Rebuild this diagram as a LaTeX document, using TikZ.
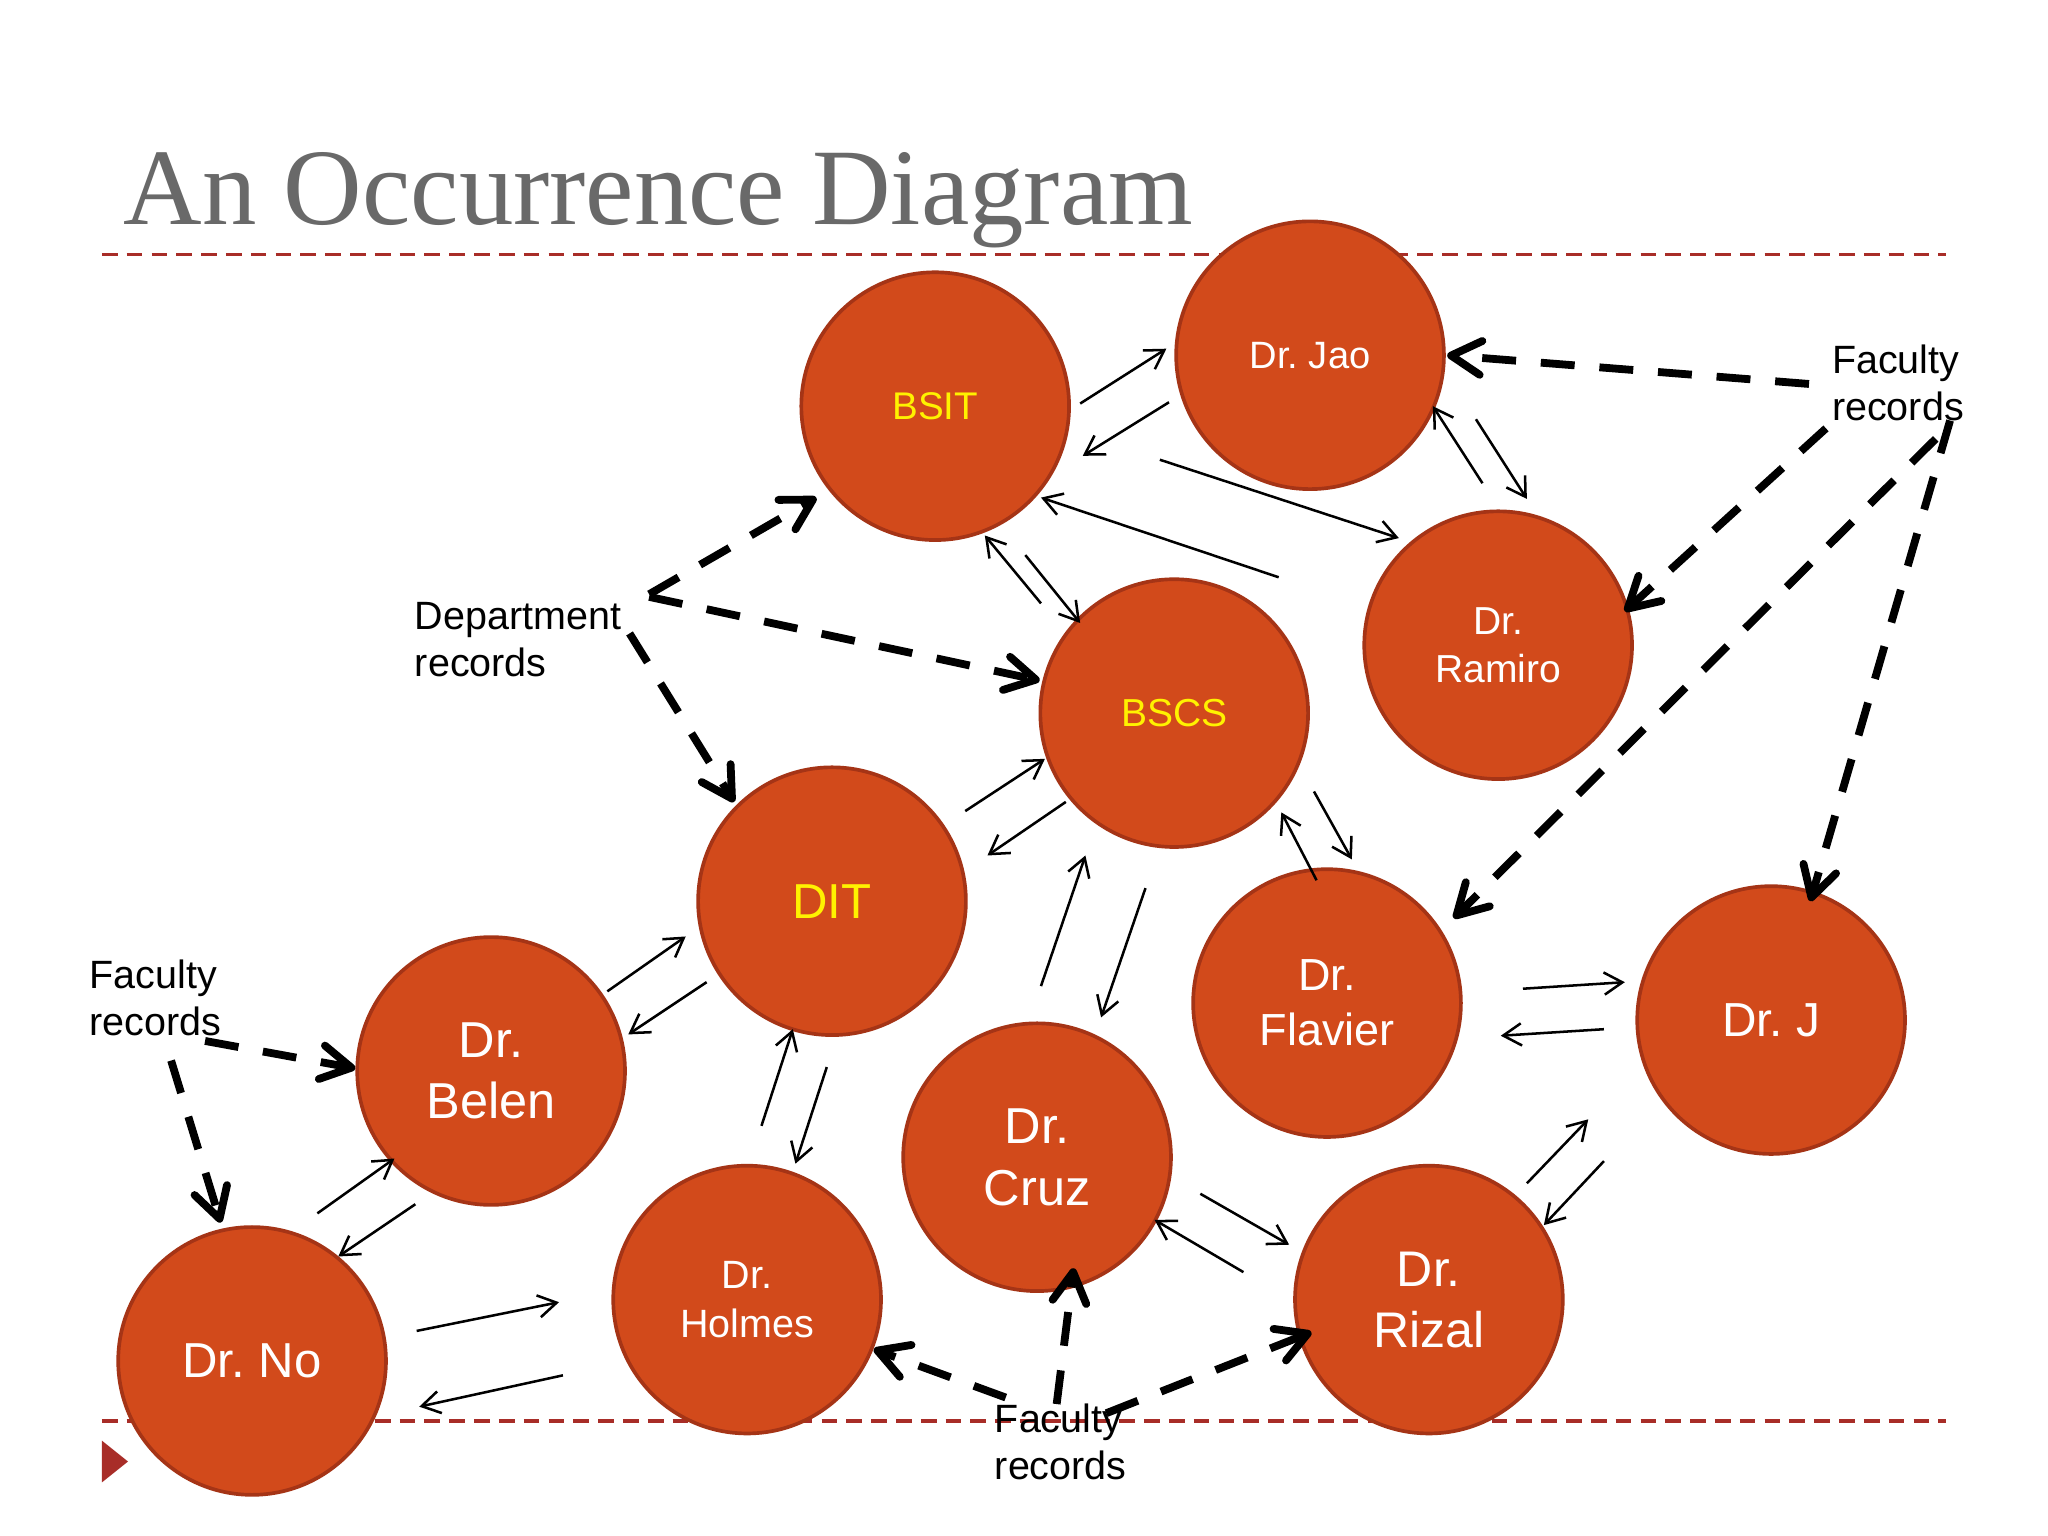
\documentclass[tikz,border=0pt]{standalone}
\usepackage{fontspec}
\setmainfont{Liberation Serif}
\setsansfont{Liberation Sans}
\usetikzlibrary{calc,arrows.meta}
\frenchspacing

\definecolor{entfill}{RGB}{210,74,27}
\definecolor{entline}{RGB}{165,52,22}
\definecolor{rulered}{RGB}{168,45,40}
\definecolor{titlegray}{RGB}{105,105,105}

\begin{document}
\begin{tikzpicture}[
  entity/.style={circle,fill=entfill,draw=entline,line width=0.8pt,minimum size=2.05cm,inner sep=0pt,align=center,text=white},
  rel/.style={-{Straight Barb[length=1.4mm,width=1.7mm]},line width=0.55pt},
  rec/.style={-{Straight Barb[length=2.3mm,width=2.6mm,round]},line width=1.7pt,dash pattern=on 0.26cm off 0.19cm},
  lbl/.style={anchor=west,inner sep=0pt,align=left,font=\sffamily\fontsize{8.6}{10.2}\selectfont}]
\useasboundingbox[fill=white] (0,0) rectangle (15.68,11.76);

\node[anchor=base west,inner sep=0pt,text=titlegray,font=\fontsize{23.7}{28}\selectfont] (title) at (0.94,10.04) {An Occurrence Diagram};
\draw[rulered,line width=0.7pt,dash pattern=on 0.12cm off 0.07cm] (0.78,9.81) -- (14.90,9.81);
\draw[rulered,line width=0.7pt,dash pattern=on 0.12cm off 0.07cm] (0.78,0.88) -- (14.90,0.88);
\fill[rulered] (0.78,0.73) -- (0.78,0.41) -- (0.98,0.57) -- cycle;

\node[entity,text=yellow,font=\sffamily\fontsize{8.4}{10.2}\selectfont] (bsit) at (7.16,8.65) {BSIT};
\node[entity,font=\sffamily\fontsize{8.3}{10.1}\selectfont] (jao) at (10.03,9.04) {Dr. Jao};
\node[entity,font=\sffamily\fontsize{8.5}{10.4}\selectfont] (ramiro) at (11.47,6.82) {Dr.\\Ramiro};
\node[entity,text=yellow,font=\sffamily\fontsize{8.5}{10.4}\selectfont] (bscs) at (8.99,6.30) {BSCS};
\node[entity,text=yellow,font=\sffamily\fontsize{10.7}{13}\selectfont] (dit) at (6.37,4.86) {DIT};
\node[entity,font=\sffamily\fontsize{9.8}{12}\selectfont] (flavier) at (10.16,4.08) {Dr.\\Flavier};
\node[entity,font=\sffamily\fontsize{10.4}{12.7}\selectfont] (drj) at (13.56,3.95) {Dr. J};
\node[entity,font=\sffamily\fontsize{11}{13.4}\selectfont] (belen) at (3.76,3.56) {Dr.\\Belen};
\node[entity,font=\sffamily\fontsize{11}{13.4}\selectfont] (cruz) at (7.94,2.90) {Dr.\\Cruz};
\node[entity,font=\sffamily\fontsize{8.6}{10.5}\selectfont] (holmes) at (5.72,1.81) {Dr.\\Holmes};
\node[entity,font=\sffamily\fontsize{10.9}{13.3}\selectfont] (rizal) at (10.94,1.81) {Dr.\\Rizal};
\node[entity,font=\sffamily\fontsize{10.7}{13}\selectfont] (drno) at (1.93,1.34) {Dr. No};

\draw[rel] ($(bsit)+(1.11,0.02)$) -- ($(jao)+(-1.10,0.05)$);
\draw[rel] ($(jao)+(-1.08,-0.36)$) -- ($(bsit)+(1.13,-0.38)$);
\draw[rel] ($(bsit)+(1.72,-0.41)$) -- ($(ramiro)+(-0.76,0.82)$);
\draw[rel] ($(ramiro)+(-1.68,0.52)$) -- ($(bsit)+(0.81,-0.70)$);
\draw[rel] ($(ramiro)+(-0.12,1.24)$) -- ($(jao)+(0.94,-0.39)$);
\draw[rel] ($(jao)+(1.27,-0.49)$) -- ($(ramiro)+(0.22,1.12)$);
\draw[rel] ($(bscs)+(-1.02,0.84)$) -- ($(bsit)+(0.38,-0.99)$);
\draw[rel] ($(bsit)+(0.69,-1.14)$) -- ($(bscs)+(-0.72,0.69)$);
\draw[rel] ($(dit)+(1.02,0.69)$) -- ($(bscs)+(-0.99,-0.35)$);
\draw[rel] ($(bscs)+(-0.83,-0.68)$) -- ($(dit)+(1.19,0.35)$);
\draw[rel] ($(flavier)+(-0.08,0.94)$) -- ($(bscs)+(0.82,-0.76)$);
\draw[rel] ($(bscs)+(1.07,-0.60)$) -- ($(flavier)+(0.19,1.10)$);
\draw[rel] ($(cruz)+(0.03,1.31)$) -- ($(bscs)+(-0.68,-1.09)$);
\draw[rel] ($(bscs)+(-0.22,-1.34)$) -- ($(cruz)+(0.49,1.07)$);
\draw[rel] ($(belen)+(0.89,0.61)$) -- ($(dit)+(-1.12,-0.27)$);
\draw[rel] ($(dit)+(-0.96,-0.62)$) -- ($(belen)+(1.05,0.28)$);
\draw[rel] ($(holmes)+(0.11,1.33)$) -- ($(dit)+(-0.30,-0.98)$);
\draw[rel] ($(dit)+(-0.04,-1.27)$) -- ($(holmes)+(0.37,1.04)$);
\draw[rel] ($(drno)+(0.50,1.13)$) -- ($(belen)+(-0.74,-0.67)$);
\draw[rel] ($(belen)+(-0.58,-1.02)$) -- ($(drno)+(0.66,0.80)$);
\draw[rel] ($(drno)+(1.26,0.23)$) -- ($(holmes)+(-1.44,-0.02)$);
\draw[rel] ($(holmes)+(-1.41,-0.58)$) -- ($(drno)+(1.28,-0.35)$);
\draw[rel] ($(flavier)+(1.50,0.11)$) -- ($(drj)+(-1.12,0.29)$);
\draw[rel] ($(drj)+(-1.28,-0.07)$) -- ($(flavier)+(1.33,-0.25)$);
\draw[rel] ($(rizal)+(0.75,0.89)$) -- ($(drj)+(-1.40,-0.76)$);
\draw[rel] ($(drj)+(-1.28,-1.08)$) -- ($(rizal)+(0.88,0.57)$);
\draw[rel] ($(cruz)+(1.25,-0.28)$) -- ($(rizal)+(-1.07,0.42)$);
\draw[rel] ($(rizal)+(-1.42,0.21)$) -- ($(cruz)+(0.90,-0.48)$);

\node[lbl] (deptrec) at (3.17,6.86) {Department\\records};
\node[lbl] (factop) at (14.02,8.83) {Faculty\\records};
\node[lbl] (facleft) at (0.68,4.12) {Faculty\\records};
\node[lbl] (facbot) at (7.61,0.72) {Faculty\\records};

\draw[rec] ($(deptrec.west)+(1.80,0.35)$) -- ($(bsit)+(-0.91,-0.70)$);
\draw[rec] ($(deptrec.west)+(1.80,0.33)$) -- ($(bscs)+(-1.03,0.25)$);
\draw[rec] ($(deptrec.west)+(1.65,0.05)$) -- ($(dit)+(-0.75,0.76)$);
\draw[rec] ($(factop.west)+(-0.17,-0.01)$) -- ($(jao)+(1.05,0.00)$);
\draw[rec] ($(factop.west)+(-0.04,-0.35)$) -- ($(ramiro)+(0.97,0.26)$);
\draw[rec] ($(factop.west)+(0.80,-0.43)$) -- ($(flavier)+(0.97,0.65)$);
\draw[rec] ($(factop.west)+(0.91,-0.29)$) -- ($(drj)+(0.30,0.91)$);
\draw[rec] ($(facleft.west)+(0.89,-0.33)$) -- ($(belen)+(-1.04,0.02)$);
\draw[rec] ($(facleft.west)+(0.63,-0.48)$) -- ($(drno)+(-0.24,1.06)$);
\draw[rec] ($(facbot.west)+(0.09,0.34)$) -- ($(holmes)+(0.97,-0.38)$);
\draw[rec] ($(facbot.west)+(0.48,0.29)$) -- ($(cruz)+(0.28,-0.85)$);
\draw[rec] ($(facbot.west)+(0.86,0.22)$) -- ($(rizal)+(-0.90,-0.25)$);
\end{tikzpicture}
\end{document}
